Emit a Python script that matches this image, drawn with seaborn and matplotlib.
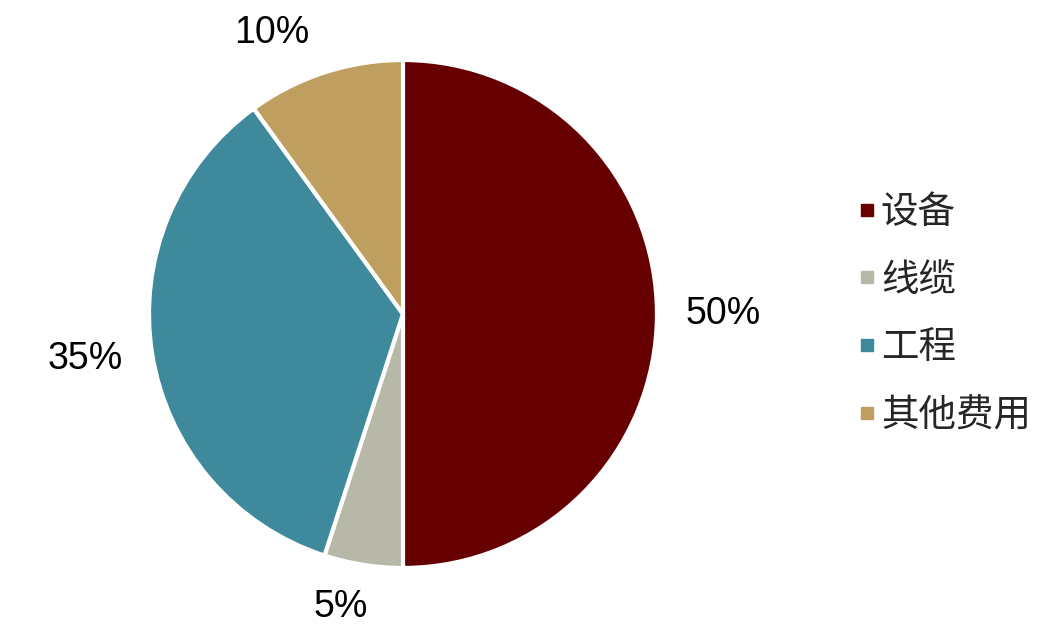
import matplotlib
matplotlib.use("Agg")
import matplotlib.pyplot as plt
import seaborn as sns
import numpy as np
from matplotlib.lines import Line2D

categories = ["设备", "线缆", "工程", "其他费用"]
values = [50, 5, 35, 10]
colors_hex = ["#660000", "#B8B8A8", "#3E8A9C", "#BF9F5F"]
label_radius = [1.26, 1.18, 1.265, 1.22]
label_angle_shift = [0, -3, -1, 7]

sns.set_theme(style="white")
plt.rcParams["font.family"] = ["Liberation Sans", "Noto Sans CJK SC", "DejaVu Sans"]

palette = sns.color_palette(colors_hex)

fig = plt.figure(figsize=(10.62, 6.34), dpi=100)
ax = fig.add_axes([0.1403, 0.1041, 0.4783, 0.8013])

wedges, texts, autotexts = ax.pie(
    values,
    colors=palette,
    startangle=90,
    counterclock=False,
    autopct=lambda p: f"{p:.0f}%",
    pctdistance=1.24,
    wedgeprops=dict(edgecolor="white", linewidth=3),
    textprops=dict(fontsize=27, color="black"),
)
for w, t, r, s in zip(wedges, autotexts, label_radius, label_angle_shift):
    ang = np.deg2rad((w.theta1 + w.theta2) / 2 + s)
    t.set_position((r * np.cos(ang), r * np.sin(ang)))

ax.set_xlim(-1, 1)
ax.set_ylim(-1, 1)
ax.set_aspect("equal")
ax.axis("off")

handles = [Line2D([0], [0], marker="s", linestyle="none", markersize=9,
                  markerfacecolor=c, markeredgecolor=c) for c in palette]
leg = fig.legend(handles, categories, loc="center left",
                 bbox_to_anchor=(0.792, 0.5047), frameon=False,
                 prop=dict(family=["Noto Sans CJK SC"], size=27),
                 handlelength=0.56, handletextpad=0.1, labelspacing=0.77,
                 borderaxespad=0)

fig.savefig("out.png", dpi=100)
